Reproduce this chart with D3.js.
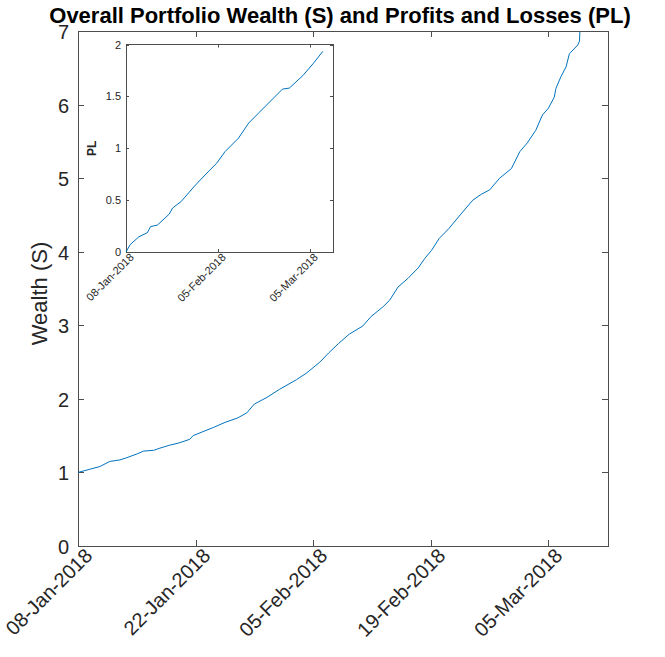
<!DOCTYPE html>
<html>
<head>
<meta charset="utf-8">
<script src="https://cdn.jsdelivr.net/npm/d3@7"></script>
<style>
  body { margin: 0; background: #fff; }
  svg { display: block; font-family: "Liberation Sans", Arial, sans-serif; }
</style>
</head>
<body>
<svg id="chart" width="665" height="657"></svg>
<script>
// days after 08-Jan-2018 00:00
var startDate = new Date(2018, 0, 8);
var spanDays = 63.1;

var wealthDays = [0, 1.3, 2.6, 3.8, 5.0, 5.8, 7.0, 7.8, 9.0, 9.75, 10.9, 12.0, 13.3, 13.7, 15.0,
    16.1, 17.5, 19.0, 20.1, 21.0, 22.5, 24.0, 26.0, 27.2, 28.8, 29.9, 31.0, 32.3, 33.9, 34.9,
    36.3, 37.1, 38.1, 39.3, 40.5, 41.3, 42.1, 43.0, 44.2, 45.5, 47.0, 48.0, 49.0, 50.2, 51.6,
    52.6, 53.5, 54.5, 55.3, 56.0, 56.7, 56.9, 57.5, 58.1, 58.5, 59.5, 59.7, 59.75];
var wealth = [1.00, 1.04, 1.08, 1.15, 1.17, 1.20, 1.25, 1.29, 1.30, 1.33, 1.37, 1.40, 1.45, 1.50, 1.56,
    1.61, 1.68, 1.74, 1.81, 1.93, 2.02, 2.13, 2.26, 2.35, 2.50, 2.63, 2.75, 2.88, 2.99, 3.12,
    3.25, 3.34, 3.52, 3.64, 3.78, 3.91, 4.02, 4.18, 4.32, 4.50, 4.70, 4.78, 4.84, 5.00, 5.13,
    5.36, 5.48, 5.65, 5.86, 5.95, 6.10, 6.22, 6.38, 6.51, 6.69, 6.81, 6.86, 6.99];

var plDays = [0, 1.3, 3.9, 6.5, 7.5, 9.6, 13.2, 14.2, 16.8, 20.9, 25.0, 27.6, 30.2, 34.3, 37.4,
    40.5, 44.1, 47.7, 49.8, 53.9, 57.0, 60.0];
var pl = [0, 0.072, 0.146, 0.186, 0.245, 0.26, 0.366, 0.424, 0.486, 0.636, 0.772, 0.854, 0.968,
    1.098, 1.243, 1.342, 1.456, 1.57, 1.58, 1.70, 1.814, 1.934];

var wealthTicks = [0, 1, 2, 3, 4, 5, 6, 7];
var plTicks = [0, 0.5, 1, 1.5, 2];
var mainDateTicks = [0, 14, 28, 42, 56];
var insetDateTicks = [0, 28, 56];

var titleText = "Overall Portfolio Wealth (S) and Profits and Losses (PL)";

function toDate(d) { return new Date(startDate.getTime() + d * 864e5); }
var fmt = d3.timeFormat("%d-%b-%Y");

var svg = d3.select("#chart");
var lineColor = "#0072BD";
var axisColor = "#4d4d4d";

function drawAxes(g, box, x, y, xTicks, yTicks, opt) {
    // white background + box
    g.append("rect")
        .attr("x", box.left).attr("y", box.top)
        .attr("width", box.right - box.left).attr("height", box.bottom - box.top)
        .attr("fill", "#fff").attr("stroke", axisColor).attr("stroke-width", 1)
        .attr("shape-rendering", "crispEdges");

    var tl = opt.tick;
    xTicks.forEach(function (t) {
        var px = Math.round(x(t)) + 0.5;
        g.append("line").attr("x1", px).attr("x2", px)
            .attr("y1", box.bottom).attr("y2", box.bottom - tl).attr("stroke", axisColor);
        g.append("line").attr("x1", px).attr("x2", px)
            .attr("y1", box.top).attr("y2", box.top + tl).attr("stroke", axisColor);
        g.append("text")
            .attr("transform", "translate(" + (px + opt.xlDx) + "," + (box.bottom + opt.xlDy) + ") rotate(-45)")
            .attr("text-anchor", "end")
            .attr("font-size", opt.font)
            .attr("fill", "#262626")
            .text(fmt(toDate(t)));
    });
    yTicks.forEach(function (t) {
        var py = Math.round(y(t)) + 0.5;
        g.append("line").attr("x1", box.left).attr("x2", box.left + tl)
            .attr("y1", py).attr("y2", py).attr("stroke", axisColor);
        g.append("line").attr("x1", box.right).attr("x2", box.right - tl)
            .attr("y1", py).attr("y2", py).attr("stroke", axisColor);
        g.append("text")
            .attr("x", box.left - opt.ylDx).attr("y", py)
            .attr("dy", "0.35em")
            .attr("text-anchor", "end")
            .attr("font-size", opt.font)
            .attr("fill", "#262626")
            .text(t);
    });
}

// main axes
var mainBox = { left: 78, right: 608, top: 31, bottom: 546 };
var x = d3.scaleTime().domain([startDate, toDate(spanDays)]).range([mainBox.left, mainBox.right]);
var y = d3.scaleLinear().domain([0, 7]).range([mainBox.bottom, mainBox.top]);
var mainG = svg.append("g");
drawAxes(mainG, mainBox, function (d) { return x(toDate(d)); }, y, mainDateTicks, wealthTicks,
    { tick: 6, font: 20, xlDx: 15, xlDy: 11, ylDx: 9 });

var wealthLine = d3.line()
    .x(function (d, i) { return x(toDate(wealthDays[i])); })
    .y(function (d) { return y(d); });
mainG.append("path").datum(wealth)
    .attr("d", wealthLine)
    .attr("fill", "none").attr("stroke", lineColor).attr("stroke-width", 1);

mainG.append("text")
    .attr("transform", "translate(47," + ((mainBox.top + mainBox.bottom) / 2 + 5) + ") rotate(-90)")
    .attr("text-anchor", "middle")
    .attr("font-size", 22)
    .attr("fill", "#262626")
    .text("Wealth (S)");

svg.append("text")
    .attr("x", (mainBox.left + mainBox.right) / 2 - 3).attr("y", 23)
    .attr("text-anchor", "middle")
    .attr("font-size", 22).attr("font-weight", "bold")
    .attr("fill", "#000")
    .text(titleText);

// inset axes
var insetBox = { left: 126, right: 333, top: 44.5, bottom: 252 };
var xi = d3.scaleTime().domain([startDate, toDate(spanDays)]).range([insetBox.left, insetBox.right]);
var yi = d3.scaleLinear().domain([0, 2]).range([insetBox.bottom, insetBox.top]);
var insetG = svg.append("g");
drawAxes(insetG, insetBox, function (d) { return xi(toDate(d)); }, yi, insetDateTicks, plTicks,
    { tick: 3, font: 11, xlDx: 8, xlDy: 6, ylDx: 5 });

var plLine = d3.line()
    .x(function (d, i) { return xi(toDate(plDays[i])); })
    .y(function (d) { return yi(d); });
insetG.append("path").datum(pl)
    .attr("d", plLine)
    .attr("fill", "none").attr("stroke", lineColor).attr("stroke-width", 1);

insetG.append("text")
    .attr("transform", "translate(96," + ((insetBox.top + insetBox.bottom) / 2) + ") rotate(-90)")
    .attr("text-anchor", "middle")
    .attr("font-size", 12).attr("font-weight", "bold")
    .attr("fill", "#262626")
    .text("PL");
</script>
</body>
</html>
